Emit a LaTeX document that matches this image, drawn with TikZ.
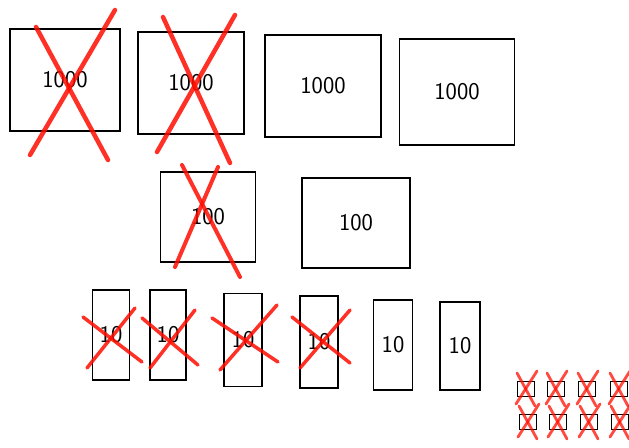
\documentclass[tikz,border=0pt]{standalone}
\usepackage{tikz}
\usetikzlibrary{positioning, calc}

\begin{document}
\begin{tikzpicture}[
  x=1pt, y=-1pt,
  block/.style={draw, line width=1.4pt, inner sep=0pt, font=\fontsize{24}{24}\sffamily},
  thou/.style={block, minimum width=110pt, minimum height=102pt},
  hund/.style={block, minimum width=100pt, minimum height=90pt},
  ten/.style={block, minimum width=38pt, minimum height=90pt},
  unit/.style={draw, line width=1.7pt, minimum width=17pt, minimum height=15pt, inner sep=0pt},
  cross/.style={red!90!orange, line width=3.5pt, line cap=round, opacity=0.85},
  smallcross/.style={cross, line width=2.8pt, opacity=0.75}
]
\useasboundingbox (0,0) rectangle (629,447);

% thousands
\node[thou] (t1) at (65,80) {1000};
\node[thou, minimum width=106pt] (t2) at (191,83) {1000};
\node[thou, minimum width=116pt] (t3) at (323,86) {1000};
\node[thou, minimum width=115pt, minimum height=106pt] (t4) at (457,92) {1000};

% hundreds
\node[hund, minimum width=95pt] (h1) at (208,217) {100};
\node[hund, minimum width=108pt] (h2) at (356,223) {100};

% tens
\node[ten, minimum width=37pt] (d1) at (111,335) {10};
\node[ten, minimum width=36pt] (d2) at (168,335) {10};
\node[ten, minimum height=93pt] (d3) at (243,340) {10};
\node[ten, minimum height=92pt] (d4) at (319,342) {10};
\node[ten, minimum width=39pt] (d5) at (393,345) {10};
\node[ten, minimum width=40pt, minimum height=88pt] (d6) at (460,346) {10};

% ones
\foreach \cx/\cy [count=\i] in {526/389, 556/389, 587/389, 619/389,
                                528/422, 558/422, 589/422, 620/422}
  \node[unit] (u\i) at (\cx,\cy) {};

% crossing out
\draw[cross, line width=4.5pt] (36,27) -- (108,160);
\draw[cross, line width=4.5pt] (115,10) -- (30,155);
\draw[cross, line width=4.5pt] (163,17) -- (230,163);
\draw[cross, line width=4.5pt] (235,15) -- (157,152);
\draw[cross, line width=4pt] (182,165) -- (240,277);
\draw[cross, line width=4pt] (218,167) -- (175,267);
\draw[cross] (83,317) -- (142,362);
\draw[cross] (135,308) -- (87,368);
\draw[cross] (142,318) -- (198,365);
\draw[cross] (195,310) -- (150,368);
\draw[cross] (212,318) -- (278,362);
\draw[cross] (277,305) -- (220,370);
\draw[cross] (292,317) -- (350,363);
\draw[cross] (350,310) -- (300,368);
\foreach \i in {1,...,8} {
  \draw[smallcross] ($(u\i.center)+(-9,-16)$) -- ($(u\i.center)+(9,17)$);
  \draw[smallcross] ($(u\i.center)+(11,-18)$) -- ($(u\i.center)+(-10,15)$);
}
\end{tikzpicture}
\end{document}
